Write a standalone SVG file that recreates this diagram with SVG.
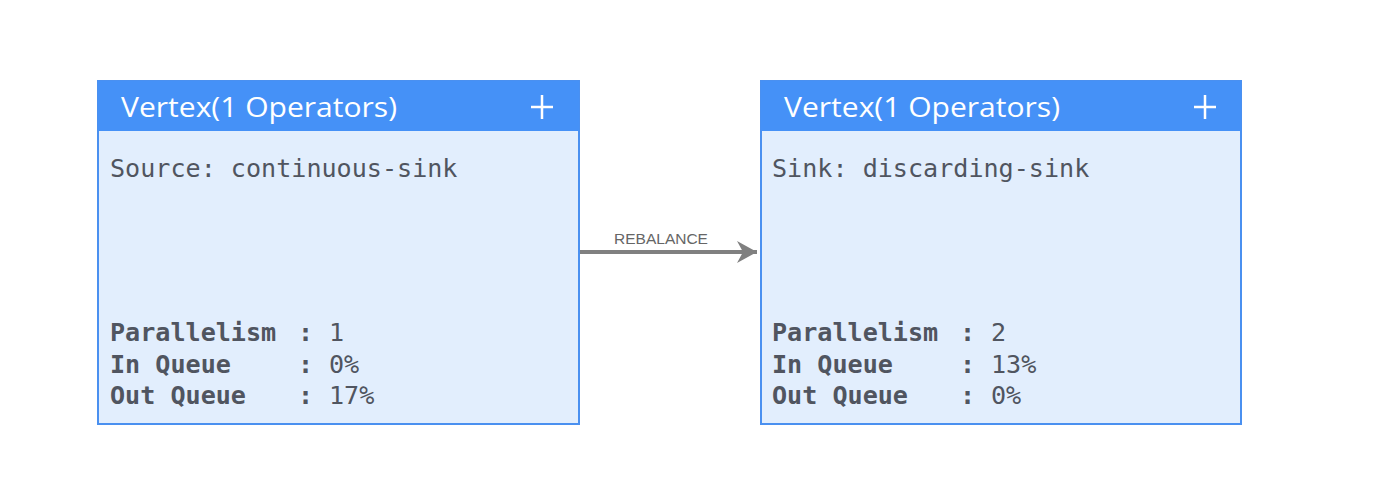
<svg xmlns="http://www.w3.org/2000/svg" width="1398" height="504" viewBox="0 0 1398 504">
<style>
.body{fill:#E2EEFD;stroke:#4A90F0;stroke-width:2}
.head{fill:#4591F7}
.title{font-family:"Open Sans","Liberation Sans",sans-serif;font-size:27px;fill:#FFFFFF}
.plus{stroke:#FFFFFF;stroke-width:2.5;fill:none}
.mono{font-family:"DejaVu Sans Mono","Liberation Mono",monospace;font-size:25.1px;fill:#505560}
.b{font-weight:bold}
.edge{stroke:#808080;stroke-width:4;fill:none}
.elabel{font-family:"Liberation Sans",Arial,sans-serif;font-size:15.5px;fill:#666666}
</style>
<defs>
<marker id="arrow" markerUnits="userSpaceOnUse" markerWidth="22" markerHeight="22" refX="20" refY="11" orient="auto">
<path d="M0,0 L20,11 L0,22 L6,11 Z" fill="#808080"/>
</marker>
</defs>
<rect width="1398" height="504" fill="#FFFFFF"/>
<g id="connectors">
<line class="edge" x1="580" y1="252" x2="757" y2="252" marker-end="url(#arrow)"/>
<text class="elabel" x="661" y="244" text-anchor="middle">REBALANCE</text>
</g>
<g id="node1">
<rect class="body" x="98" y="81" width="481" height="343"/>
<rect class="head" x="98" y="81" width="481" height="50"/>
<text class="title" x="121" y="117" textLength="276" lengthAdjust="spacingAndGlyphs">Vertex(1 Operators)</text>
<path class="plus" d="M531,107 H553 M542,95 V119"/>
<text class="mono" x="110" y="177">Source: continuous-sink</text>
<text class="mono b" x="110" y="341">Parallelism</text>
<text class="mono b" x="110" y="373">In Queue</text>
<text class="mono b" x="110" y="404">Out Queue</text>
<text class="mono b" x="298" y="341">:</text>
<text class="mono b" x="298" y="373">:</text>
<text class="mono b" x="298" y="404">:</text>
<text class="mono" x="329" y="341">1</text>
<text class="mono" x="329" y="373">0%</text>
<text class="mono" x="329" y="404">17%</text>
</g>
<g id="node2">
<rect class="body" x="761" y="81" width="480" height="343"/>
<rect class="head" x="761" y="81" width="480" height="50"/>
<text class="title" x="784" y="117" textLength="276" lengthAdjust="spacingAndGlyphs">Vertex(1 Operators)</text>
<path class="plus" d="M1194,107 H1216 M1205,95 V119"/>
<text class="mono" x="772" y="177">Sink: discarding-sink</text>
<text class="mono b" x="772" y="341">Parallelism</text>
<text class="mono b" x="772" y="373">In Queue</text>
<text class="mono b" x="772" y="404">Out Queue</text>
<text class="mono b" x="960" y="341">:</text>
<text class="mono b" x="960" y="373">:</text>
<text class="mono b" x="960" y="404">:</text>
<text class="mono" x="991" y="341">2</text>
<text class="mono" x="991" y="373">13%</text>
<text class="mono" x="991" y="404">0%</text>
</g>
</svg>
